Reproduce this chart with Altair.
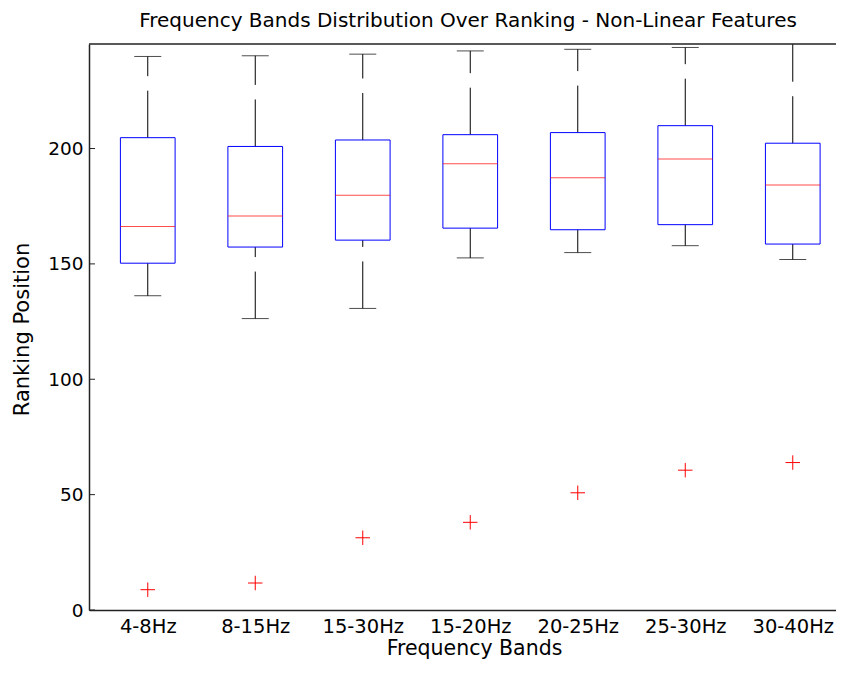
import json
import altair as alt
import pandas as pd

# ---- data ----
bands = ["4-8Hz", "8-15Hz", "15-30Hz", "15-20Hz", "20-25Hz", "25-30Hz", "30-40Hz"]
positions = [1, 2, 3, 4, 5, 6, 7]
lower_whisker = [136.2, 126.3, 130.7, 152.6, 154.9, 157.9, 151.9]
q1 = [150.3, 157.3, 160.3, 165.5, 164.8, 167.0, 158.6]
median = [166.2, 170.8, 179.8, 193.4, 187.3, 195.5, 184.2]
q3 = [204.7, 200.9, 203.7, 206.0, 206.9, 209.9, 202.3]
upper_whisker = [239.9, 240.2, 240.9, 242.3, 243.0, 243.8, 250.0]
outliers = [8.8, 11.7, 31.3, 38.0, 50.8, 60.6, 63.9]
y_ticks = [0, 50, 100, 150, 200]
title_text = "Frequency Bands Distribution Over Ranking - Non-Linear Features"

W, H = 747, 566
STEP = 108.96
FONT = "DejaVu Sans"
FRAME = "#222222"

box_df = pd.DataFrame({
    "pos": positions, "band": bands, "lo": lower_whisker, "q1": q1,
    "med": median, "q3": q3, "hi": upper_whisker,
})
out_df = pd.DataFrame({"pos": positions, "val": outliers})
tick_df = pd.DataFrame({"t": y_ticks})
one_df = pd.DataFrame({"a": [0]})

xscale = alt.Scale(domain=[0.5, 0.5 + W / STEP], nice=False, zero=False)
yscale = alt.Scale(domain=[0, 245.3], nice=False, zero=True)

label_expr = json.dumps(bands) + "[datum.value - 1]"
xaxis = alt.Axis(
    values=positions, labelExpr=label_expr, ticks=False, tickSize=0,
    domain=True, domainColor=FRAME, domainWidth=1.5, grid=False,
    labelFontSize=19.5, labelPadding=7, labelAngle=0, labelFlush=False,
    labelOverlap=False, labelColor="black", labelFont=FONT,
    title="Frequency Bands", titleFontSize=20.5, titleFontWeight="normal",
    titleColor="black", titleFont=FONT, titleBaseline="alphabetic",
    titleX=385, titleY=44.5,
)
yaxis = alt.Axis(
    values=y_ticks, format="d", ticks=False, tickSize=0,
    domain=True, domainColor=FRAME, domainWidth=1.5, grid=False,
    labelFontSize=18.5, labelPadding=6, labelColor="black", labelFont=FONT,
    title="Ranking Position", titleFontSize=21, titleFontWeight="normal",
    titleColor="black", titleFont=FONT, titleBaseline="alphabetic",
    titleAngle=270, titleX=-61, titleY=H / 2 + 2,
)


def X():
    return alt.X("pos:Q", scale=xscale, axis=xaxis)


def Y(field):
    return alt.Y(field, type="quantitative", scale=yscale, axis=yaxis)


base = alt.Chart(box_df)

upper = base.mark_rule(color="black", strokeWidth=1, strokeDash=[47, 14.5], clip=True).encode(
    x=X(), y=Y("q3"), y2="hi")
lower = base.mark_rule(color="black", strokeWidth=1, strokeDash=[47, 14.5], clip=True).encode(
    x=X(), y=Y("lo"), y2="q1")
cap_hi = base.mark_tick(orient="horizontal", size=27, thickness=1, color="black", clip=True).encode(
    x=X(), y=Y("hi"))
cap_lo = base.mark_tick(orient="horizontal", size=27, thickness=1, color="black", clip=True).encode(
    x=X(), y=Y("lo"))
boxes = base.mark_bar(size=54.7, fill="white", fillOpacity=0, stroke="#0000ff", strokeWidth=1).encode(
    x=X(), y=Y("q1"), y2="q3")
meds = base.mark_tick(orient="horizontal", size=54.7, thickness=1, color="#ff0000").encode(
    x=X(), y=Y("med"))
outs = alt.Chart(out_df).mark_point(
    shape="M-1,0L1,0M0,-1L0,1", size=210, filled=False, stroke="#ff0000", strokeWidth=1, opacity=1
).encode(x=X(), y=Y("val"))

ticks_left = alt.Chart(tick_df).mark_rule(color=FRAME, strokeWidth=1).encode(
    y=Y("t"), x=alt.value(0), x2=alt.value(6))
top_border = alt.Chart(one_df).mark_rule(color=FRAME, strokeWidth=1.5).encode(
    y=alt.value(0), x=alt.value(0), x2=alt.value(W))
title = alt.Chart(one_df).mark_text(
    text=title_text, font=FONT, fontSize=20, color="black",
    align="center", baseline="alphabetic", clip=False,
).encode(x=alt.value(379), y=alt.value(-17))

chart = alt.layer(
    upper, lower, cap_hi, cap_lo, boxes, meds, outs, ticks_left, top_border, title
).properties(
    width=W, height=H,
    autosize=alt.AutoSizeParams(type="none"),
    padding={"left": 81, "top": 36, "right": 0, "bottom": 49},
).configure(font=FONT, background="white").configure_view(strokeWidth=0)

chart.save("out.html", embed_options={"renderer": "svg", "actions": False})
